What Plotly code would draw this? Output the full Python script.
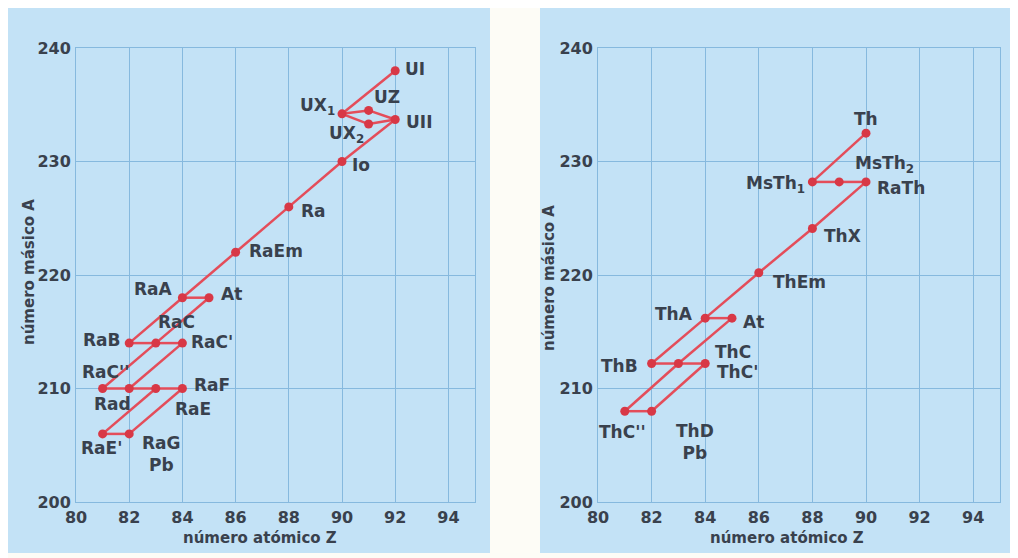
import plotly.graph_objects as go

# --- uranium / radium series (left panel) ---------------------------------
U_NAMES = ["UI", "UX1", "UZ", "UX2", "UII", "Io", "Ra", "RaEm", "RaA", "At",
           "RaB", "RaC", "RaC'", "RaC''", "RaD", "RaE", "RaF", "RaE'", "RaG"]
U_Z = [92, 90, 91, 91, 92, 90, 88, 86, 84, 85, 82, 83, 84, 81, 82, 83, 84, 81, 82]
U_A = [238, 234.2, 234.5, 233.3, 233.7, 230, 226, 222, 218, 218,
       214, 214, 214, 210, 210, 210, 210, 206, 206]
U_TEXT = ["UI", "UX<sub>1</sub>", "UZ", "UX<sub>2</sub>", "UII", "Io", "Ra", "RaEm",
          "RaA", "At", "RaB", "RaC", "RaC'", "RaC''", "Rad", "RaE", "RaF", "RaE'",
          "RaG<br>Pb"]
U_EDGES = [("UI", "UX1"), ("UX1", "UZ"), ("UX1", "UX2"), ("UZ", "UII"), ("UX2", "UII"),
           ("UII", "Io"), ("Io", "Ra"), ("Ra", "RaEm"), ("RaEm", "RaA"), ("RaA", "At"),
           ("RaA", "RaB"), ("At", "RaC"), ("RaB", "RaC"), ("RaC", "RaC'"),
           ("RaC", "RaC''"), ("RaC'", "RaD"), ("RaC''", "RaD"), ("RaD", "RaE"),
           ("RaE", "RaF"), ("RaE", "RaE'"), ("RaF", "RaG"), ("RaE'", "RaG")]

# --- thorium series (right panel) -----------------------------------------
T_NAMES = ["Th", "MsTh1", "MsTh2", "RaTh", "ThX", "ThEm", "ThA", "At",
           "ThB", "ThC", "ThC'", "ThC''", "ThD"]
T_Z = [90, 88, 89, 90, 88, 86, 84, 85, 82, 83, 84, 81, 82]
T_A = [232.5, 228.2, 228.2, 228.2, 224.1, 220.2, 216.2, 216.2, 212.2, 212.2, 212.2, 208, 208]
T_TEXT = ["Th", "MsTh<sub>1</sub>", "MsTh<sub>2</sub>", "RaTh", "ThX", "ThEm", "ThA",
          "At", "ThB", "ThC", "ThC'", "ThC''", "ThD<br>Pb"]
T_EDGES = [("Th", "MsTh1"), ("MsTh1", "MsTh2"), ("MsTh2", "RaTh"), ("RaTh", "ThX"),
           ("ThX", "ThEm"), ("ThEm", "ThA"), ("ThA", "At"), ("ThA", "ThB"),
           ("At", "ThC"), ("ThB", "ThC"), ("ThC", "ThC'"), ("ThC", "ThC''"),
           ("ThC'", "ThD"), ("ThC''", "ThD")]

X_TICKS = [80, 82, 84, 86, 88, 90, 92, 94]
Y_TICKS = [200, 210, 220, 230, 240]

# label placement: xanchor, xshift, yshift (pixels)
U_POS = {
    "UI": ("left", 8, 2), "UX1": ("right", -5, 7), "UZ": ("left", 3, 13),
    "UX2": ("right", -3, -10), "UII": ("left", 9, -2), "Io": ("left", 8, -3),
    "Ra": ("left", 10, -4), "RaEm": ("left", 11, 1), "RaA": ("right", -7, 9),
    "At": ("left", 10, 4), "RaB": ("right", -6, 3), "RaC": ("center", 21, 21),
    "RaC'": ("left", 7, 1), "RaC''": ("center", 3, 17), "RaD": ("center", -17, -15),
    "RaE": ("center", 37, -20), "RaF": ("left", 10, 4), "RaE'": ("center", -1, -14),
    "RaG": ("left", 11, -20),
}
T_POS = {
    "Th": ("center", 0, 14), "MsTh1": ("right", -5, -3), "MsTh2": ("left", 14, 17),
    "RaTh": ("left", 9, -6), "ThX": ("left", 10, -8), "ThEm": ("left", 12, -9),
    "ThA": ("right", -10, 4), "At": ("left", 9, -4), "ThB": ("right", -12, -2),
    "ThC": ("left", 35, 12), "ThC'": ("left", 10, -8), "ThC''": ("center", -2, -21),
    "ThD": ("left", 22, -31),
}

# the page body adds an 8px margin, so the figure is laid out in shifted pixels
OFF = 8
W, H = 1018 - OFF, 558 - OFF
LINE_RED = "#e44d5a"
DOT_RED = "#d83846"
TXT = "#39414d"
BOX = "#c3e2f6"
GRID = "#86b9de"
FONT = "DejaVu Sans"


def px(x):
    return (x - OFF) / W


def py(y):
    return 1 - (y - OFF) / H


def segments(names, zs, ays, edges):
    idx = {n: i for i, n in enumerate(names)}
    xs, ys = [], []
    for a, b in edges:
        xs += [zs[idx[a]], zs[idx[b]], None]
        ys += [ays[idx[a]], ays[idx[b]], None]
    return xs, ys


fig = go.Figure()
annotations = []

panels = [
    (U_NAMES, U_Z, U_A, U_TEXT, U_EDGES, U_POS, "x", "y"),
    (T_NAMES, T_Z, T_A, T_TEXT, T_EDGES, T_POS, "x2", "y2"),
]
for names, zs, ays, texts, edges, pos, xa, ya in panels:
    sx, sy = segments(names, zs, ays, edges)
    fig.add_trace(go.Scatter(x=sx, y=sy, mode="lines", xaxis=xa, yaxis=ya,
                             line=dict(color=LINE_RED, width=2.5),
                             hoverinfo="skip", showlegend=False))
    fig.add_trace(go.Scatter(x=zs, y=ays, mode="markers", xaxis=xa, yaxis=ya,
                             marker=dict(color=DOT_RED, size=9),
                             text=names, hoverinfo="text", showlegend=False))
    for n, z, a, t in zip(names, zs, ays, texts):
        anc, dx, dy = pos[n]
        annotations.append(dict(
            x=z, y=a, xref=xa, yref=ya, text=t, showarrow=False,
            xanchor=anc, yanchor="middle", xshift=dx, yshift=dy,
            font=dict(family=FONT, size=17, color=TXT, weight="bold"),
        ))

# axis titles
for xc, yc in [(29, 272), (549, 278)]:
    annotations.append(dict(
        x=px(xc), y=py(yc), xref="paper", yref="paper",
        xanchor="center", yanchor="middle",
        text="número másico A", textangle=-90, showarrow=False,
        font=dict(family=FONT, size=15, color=TXT, weight="bold"),
    ))
for xc in [260, 787]:
    annotations.append(dict(
        x=px(xc), y=py(538), xref="paper", yref="paper",
        xanchor="center", yanchor="middle",
        text="número atómico Z", showarrow=False,
        font=dict(family=FONT, size=15, color=TXT, weight="bold"),
    ))

axis_common = dict(
    showgrid=True, gridcolor=GRID, gridwidth=1, zeroline=False,
    showline=True, linecolor=GRID, linewidth=1, mirror=True, ticks="",
    automargin=False,
    tickfont=dict(family=FONT, size=16, color=TXT, weight="bold"),
)
xdom1 = [px(76), px(475)]
xdom2 = [px(598), px(1000)]
ydom = [py(502), py(48)]

fig.update_layout(
    width=W, height=H, autosize=False,
    margin=dict(l=0, r=0, t=0, b=0, pad=0, autoexpand=False),
    paper_bgcolor="#fdfcf6",
    plot_bgcolor="rgba(0,0,0,0)",
    xaxis=dict(domain=xdom1, range=[80, 95], tickvals=X_TICKS, anchor="y",
               ticklabelstandoff=1, **axis_common),
    yaxis=dict(domain=ydom, range=[200, 240], tickvals=Y_TICKS, anchor="x",
               ticklabelstandoff=1, **axis_common),
    xaxis2=dict(domain=xdom2, range=[80, 95], tickvals=X_TICKS, anchor="y2",
                ticklabelstandoff=1, **axis_common),
    yaxis2=dict(domain=ydom, range=[200, 240], tickvals=Y_TICKS, anchor="x2",
                ticklabelstandoff=1, **axis_common),
    shapes=[
        dict(type="rect", xref="paper", yref="paper", layer="below",
             x0=px(5), x1=px(490), y0=py(553), y1=py(7),
             fillcolor=BOX, line=dict(width=0)),
        dict(type="rect", xref="paper", yref="paper", layer="below",
             x0=px(540), x1=px(1015), y0=py(553), y1=py(7),
             fillcolor=BOX, line=dict(width=0)),
    ],
    annotations=annotations,
)

fig.write_html("out.html")
